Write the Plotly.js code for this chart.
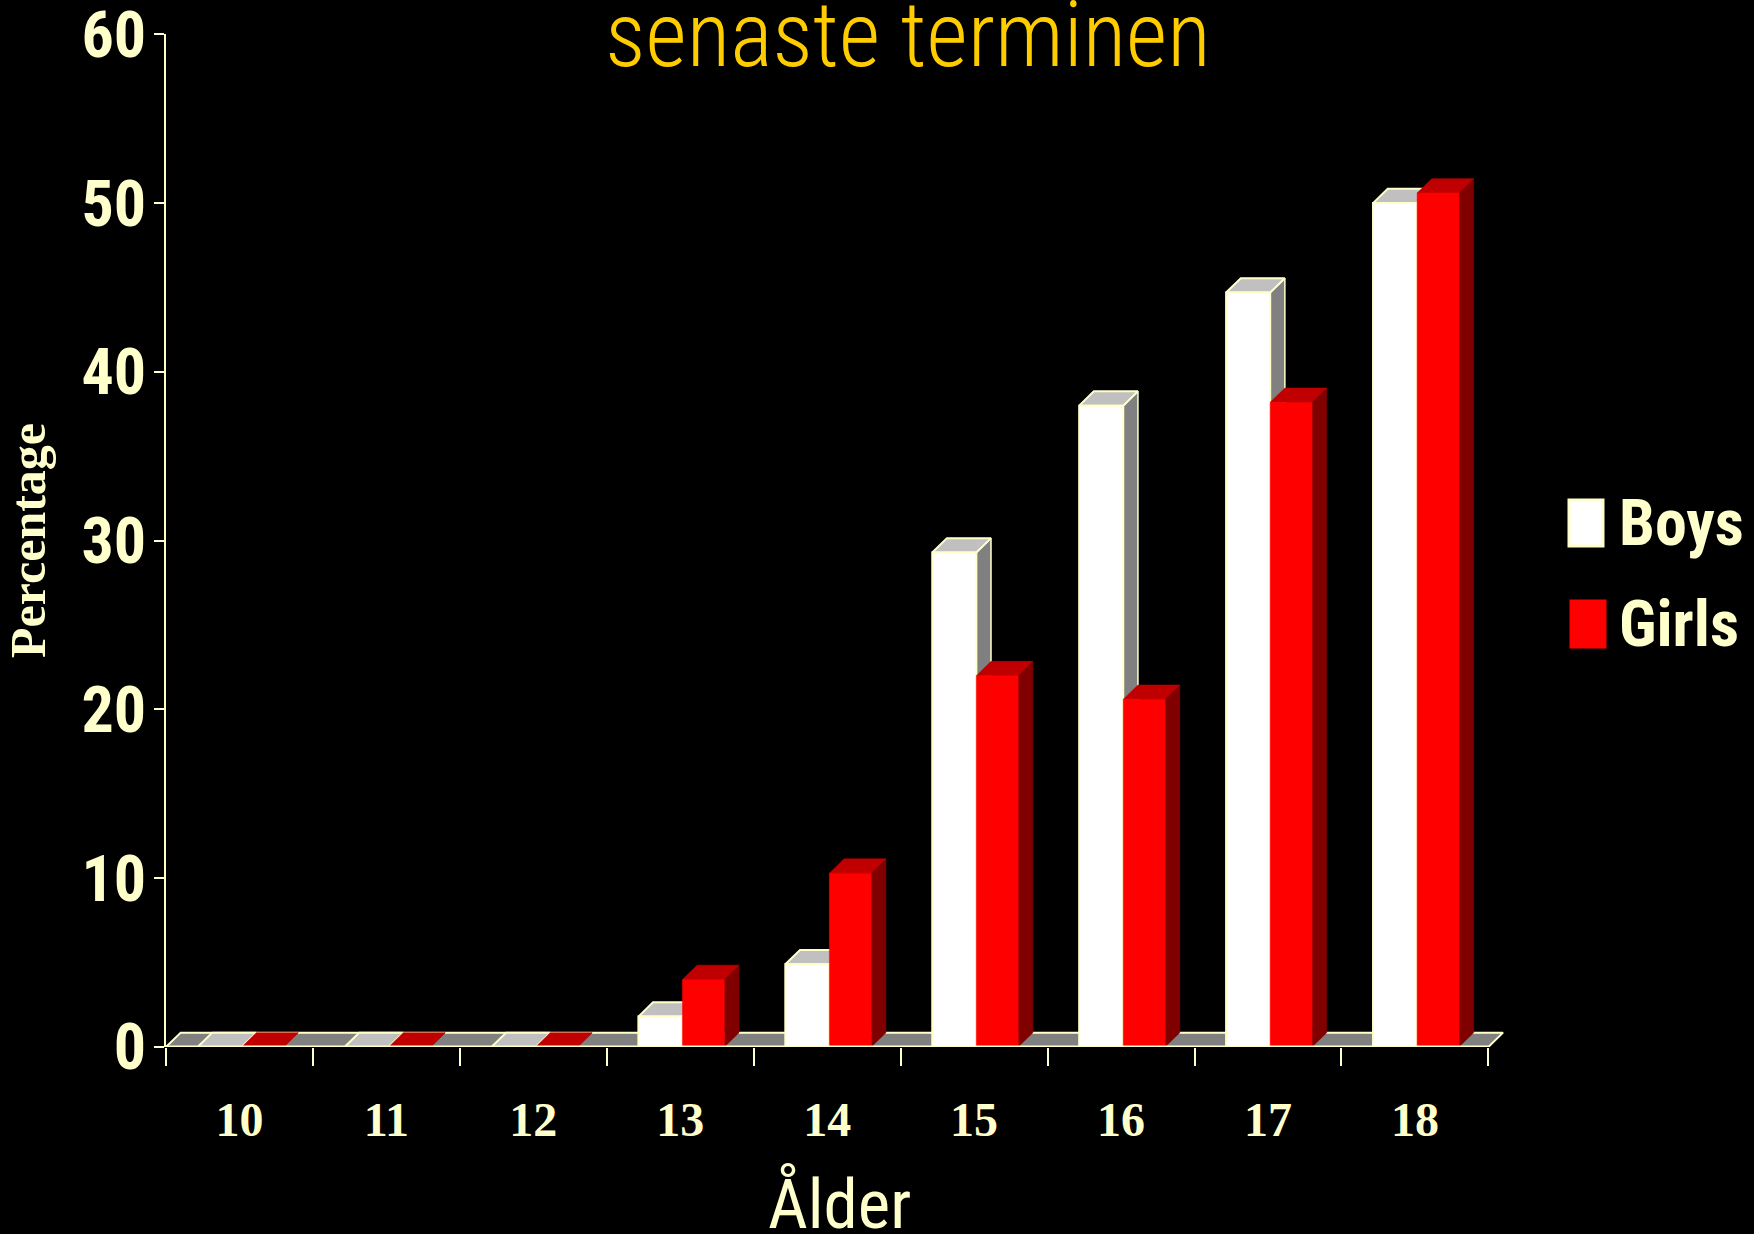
<!DOCTYPE html>
<html>
<head>
<meta charset="utf-8">
<script src="https://cdn.plot.ly/plotly-3.0.1.min.js"></script>
<style>
  html, body { margin: 0; padding: 0; background: #000; }
  #chart { width: 1754px; height: 1234px; }
</style>
</head>
<body>
<div id="chart"></div>
<script>
// ---- data ----
const categories = ['10', '11', '12', '13', '14', '15', '16', '17', '18'];
const boysValues = [0, 0, 0, 1.8, 4.9, 29.3, 38.0, 44.7, 50.0];
const girlsValues = [0, 0, 0, 4.0, 10.3, 22.0, 20.6, 38.2, 50.6];
const seriesNames = ['Boys', 'Girls'];
const yTickValues = [0, 10, 20, 30, 40, 50, 60];
const chartTitle = 'senaste terminen';
const xTitle = 'Ålder';
const yTitle = 'Percentage';

// ---- style ----
const CREAM = '#FFFFCC';
const NARROW = '"Liberation Sans Narrow", "Arial Narrow", "Roboto Condensed", "Liberation Sans", sans-serif';
const SERIF = '"Liberation Serif", "Times New Roman", serif';
const DX = 0.1;   // depth offset in category units
const DY = 0.85;  // depth offset in value units

const W = 1754, H = 1234;
const M = { l: 166, r: 248, t: 34, b: 187 };
const xRange = [-0.5, 8.62];
const yRange = [0, 60.02];

function px2paperX(px) { return (px - M.l) / (W - M.l - M.r); }
function px2paperY(py) { return (H - M.b - py) / (H - M.t - M.b); }

function buildFaces(vals, x0, w) {
  const front = { x: [], y: [] }, top = { x: [], y: [] }, side = { x: [], y: [] };
  vals.forEach((v, i) => {
    const a = i + x0, b = i + x0 + w;
    front.x.push(a, b, b, a, a, null);
    front.y.push(0, 0, v, v, 0, null);
    top.x.push(a, b, b + DX, a + DX, a, null);
    top.y.push(v, v, v + DY, v + DY, v, null);
    side.x.push(b, b + DX, b + DX, b, b, null);
    side.y.push(0, DY, v + DY, v, 0, null);
  });
  return { front, top, side };
}

function poly(d, fill, lineColor, lineWidth) {
  return {
    type: 'scatter', mode: 'lines', x: d.x, y: d.y,
    fill: 'toself', fillcolor: fill,
    line: { color: lineColor, width: lineWidth },
    connectgaps: false, hoverinfo: 'skip', showlegend: false
  };
}

const boys = buildFaces(boysValues, -0.285, 0.30);
const girls = buildFaces(girlsValues, 0.015, 0.285);

const nCat = categories.length;
const floor = {
  x: [-0.5, nCat - 0.5, nCat - 0.5 + DX, -0.5 + DX, -0.5],
  y: [0, 0, DY, DY, 0]
};

const traces = [
  poly(floor, '#808080', CREAM, 2),
  poly(boys.side, '#808080', CREAM, 1.5),
  poly(boys.top, '#C0C0C0', CREAM, 2),
  poly(boys.front, '#FFFFFF', CREAM, 2),
  poly(girls.side, '#800000', '#800000', 0.5),
  poly(girls.top, '#C00000', '#C00000', 0.5),
  poly(girls.front, '#FF0000', '#FF0000', 0.5),
  { type: 'scatter', mode: 'lines', x: [-0.5, nCat - 0.5], y: [0, 0],
    line: { color: CREAM, width: 3 }, hoverinfo: 'skip', showlegend: false }
];

const boundaries = [];
for (let i = 0; i <= nCat; i++) boundaries.push(i - 0.5);

// legend drawn manually
const legendItems = [
  { name: seriesNames[0], fill: '#FFFFFF', line: CREAM, box: [1569, 500, 1603, 546], base: 546 },
  { name: seriesNames[1], fill: '#FF0000', line: '#FF0000', box: [1571, 601, 1605, 647], base: 647 }
];
const shapes = legendItems.map(it => ({
  type: 'rect', xref: 'paper', yref: 'paper',
  x0: px2paperX(it.box[0]), x1: px2paperX(it.box[2]),
  y0: px2paperY(it.box[3]), y1: px2paperY(it.box[1]),
  fillcolor: it.fill, line: { color: it.line, width: 3 }
}));
const annotations = legendItems.map(it => ({
  xref: 'paper', yref: 'paper', x: px2paperX(1617), y: px2paperY(it.base - 23),
  xanchor: 'left', yanchor: 'middle', showarrow: false,
  text: '<b>' + it.name + '</b>',
  font: { family: NARROW, size: 64, color: CREAM }
}));
// x-axis title placed as an annotation for exact positioning
annotations.push({
  xref: 'paper', yref: 'paper', x: px2paperX(839), y: px2paperY(1228 - 25),
  xanchor: 'center', yanchor: 'middle', showarrow: false,
  text: xTitle, font: { family: NARROW, size: 69, color: CREAM }
});

const layout = {
  width: W, height: H,
  paper_bgcolor: '#000000', plot_bgcolor: '#000000',
  margin: M,
  showlegend: false,
  title: {
    text: chartTitle, xref: 'container', yref: 'container',
    x: 908 / W, xanchor: 'center', y: 1 - 66 / H, yanchor: 'bottom',
    font: { family: NARROW, size: 90, color: '#FFCC00', weight: 300 }
  },
  xaxis: {
    range: xRange, showline: false, showgrid: false, zeroline: false,
    tickmode: 'array', tickvals: categories.map((c, i) => i), ticktext: categories,
    ticks: '', ticklabelstandoff: 40, ticklabeloverflow: 'allow',
    tickfont: { family: SERIF, size: 48, color: CREAM, weight: 'bold' },
    minor: { tickmode: 'array', tickvals: boundaries, ticks: 'outside', ticklen: 18,
             tickwidth: 2, tickcolor: CREAM, showgrid: false },
    fixedrange: true
  },
  yaxis: {
    range: yRange, showline: true, linecolor: CREAM, linewidth: 2,
    showgrid: false, zeroline: false,
    tickmode: 'array', tickvals: yTickValues,
    ticks: 'outside', ticklen: 10, tickwidth: 2, tickcolor: CREAM,
    ticklabelstandoff: -5, ticklabeloverflow: 'allow',
    tickfont: { family: NARROW, size: 64, color: CREAM, weight: 'bold' },
    title: { text: '<b>' + yTitle + '</b>', standoff: 28, font: { family: SERIF, size: 50, color: CREAM } },
    fixedrange: true
  },
  shapes: shapes,
  annotations: annotations
};

Plotly.newPlot('chart', traces, layout, { displayModeBar: false, staticPlot: true });
</script>
</body>
</html>
